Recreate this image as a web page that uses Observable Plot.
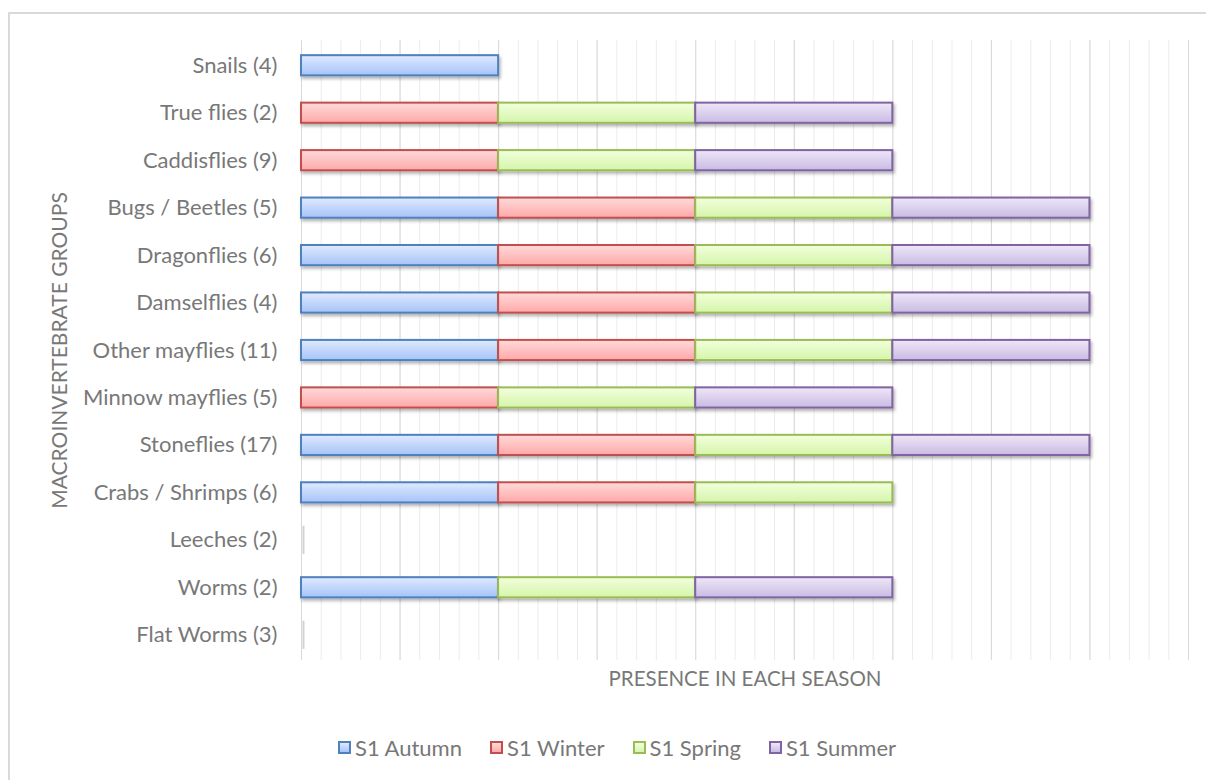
<!DOCTYPE html>
<html>
<head>
<meta charset="utf-8">
<script src="https://cdn.jsdelivr.net/npm/d3@7"></script>
<script src="https://cdn.jsdelivr.net/npm/@observablehq/plot@0.6"></script>
<style>
  html, body { margin: 0; padding: 0; background: #fff; overflow: hidden; }
  body { width: 1206px; height: 780px; position: relative; font-family: Lato, "Open Sans", sans-serif; }
  #frame { position: absolute; left: 8px; top: 12px; width: 1240px; height: 800px;
           border-left: 2px solid #d9d9d9; border-top: 2px solid #d9d9d9; }
  #chart { position: absolute; left: 0; top: 0; }
  #legend { position: absolute; left: 8px; top: 734px; width: 1218px; display: flex;
            justify-content: center; gap: 28px; font-size: 22px; color: #787878; }
  #legend .item { display: flex; align-items: center; gap: 4px; }
  #legend .sw { width: 9px; height: 9px; border: 2px solid; }
</style>
</head>
<body>
<div id="frame"></div>
<div id="chart"></div>
<div id="legend"></div>
<script>
// Macroinvertebrate groups (number of taxa in brackets), top to bottom
const groups = [
  "Snails (4)", "True flies (2)", "Caddisflies (9)", "Bugs / Beetles (5)",
  "Dragonflies (6)", "Damselflies (4)", "Other mayflies (11)", "Minnow mayflies (5)",
  "Stoneflies (17)", "Crabs / Shrimps (6)", "Leeches (2)", "Worms (2)", "Flat Worms (3)"
];
const seasons = ["S1 Autumn", "S1 Winter", "S1 Spring", "S1 Summer"];

// Presence (1) or absence (0) of each group in each season
const autumn = [1, 0, 0, 1, 1, 1, 1, 0, 1, 1, 0, 1, 0];
const winter = [0, 1, 1, 1, 1, 1, 1, 1, 1, 1, 0, 0, 0];
const spring = [0, 1, 1, 1, 1, 1, 1, 1, 1, 1, 0, 1, 0];
const summer = [0, 1, 1, 1, 1, 1, 1, 1, 1, 0, 0, 1, 0];
const presence = [autumn, winter, spring, summer];

const strokes = ["#4f81bd", "#c0504d", "#9bbb59", "#8064a2"];
const gradients = [
  ["#dfeaff", "#a6c3f8"],
  ["#ffdada", "#ffa8a8"],
  ["#f2ffdd", "#d5f5aa"],
  ["#eee7f8", "#c9bbe3"]
];
const fillIds = ["g-autumn", "g-winter", "g-spring", "g-summer"];

const rows = [];
groups.forEach((g, i) => {
  seasons.forEach((s, j) => {
    rows.push({group: g, season: s, idx: j, value: presence[j][i]});
  });
});
const present = rows.filter(d => d.value > 0);
const absentGroups = groups.filter((g, i) => presence.every(p => p[i] === 0));

// Gradient fills and a soft drop shadow for the bars
function defs() {
  const d = d3.create("svg:defs");
  gradients.forEach(([top, bottom], j) => {
    const lg = d.append("linearGradient").attr("id", fillIds[j])
      .attr("x1", 0).attr("y1", 0).attr("x2", 0).attr("y2", 1);
    lg.append("stop").attr("offset", "0%").attr("stop-color", top);
    lg.append("stop").attr("offset", "100%").attr("stop-color", bottom);
  });
  const f = d.append("filter").attr("id", "shadow")
    .attr("x", "-5%").attr("y", "-30%").attr("width", "115%").attr("height", "190%");
  f.append("feDropShadow").attr("dx", 1.5).attr("dy", 2.5)
    .attr("stdDeviation", 1.4).attr("flood-color", "#000").attr("flood-opacity", 0.3);
  return d.node();
}

const minorTicks = d3.ticks(0, 4.5, 45);
const majorTicks = d3.ticks(0, 4.5, 9);
const textColor = "#787878";

const chart = Plot.plot({
  width: 1206,
  height: 700,
  marginLeft: 301,
  marginRight: 18,
  marginTop: 40,
  marginBottom: 40,
  style: {fontFamily: "Lato, 'Open Sans', sans-serif", fontSize: "22px", color: textColor, background: "transparent"},
  x: {domain: [0, 4.5], axis: null},
  y: {domain: groups, paddingInner: 0.575, paddingOuter: 0.32, round: false, label: null},
  color: {type: "identity"},
  marks: [
    defs,
    Plot.gridX(minorTicks, {stroke: "#ececec", strokeOpacity: 1, strokeWidth: 1}),
    Plot.gridX(majorTicks, {stroke: "#d9d9d9", strokeOpacity: 1, strokeWidth: 1}),
    Plot.axisY({tickSize: 0, tickPadding: 24, label: null, fontSize: 22, fill: textColor}),
    Plot.tickX(absentGroups, {x: 0, y: d => d, stroke: "#d2d2d2", strokeWidth: 2, dx: 2, inset: -4}),
    Plot.barX(present, Plot.stackX({
      y: "group",
      x: "value",
      order: seasons,
      z: "season",
      fill: d => `url(#${fillIds[d.idx]})`,
      stroke: d => strokes[d.idx],
      strokeWidth: 2
    })),
    Plot.text(["MACROINVERTEBRATE GROUPS"], {
      frameAnchor: "left", textAnchor: "middle", dx: -241, rotate: -90, fontSize: 21, fill: textColor
    }),
    Plot.text(["PRESENCE IN EACH SEASON"], {
      frameAnchor: "bottom", textAnchor: "middle", lineAnchor: "middle", dy: 19, fontSize: 20.5, fill: textColor
    })
  ]
});
// Apply shadow to the bar rectangles
d3.select(chart).selectAll("g[aria-label='bar'] rect").attr("filter", "url(#shadow)");
document.getElementById("chart").appendChild(chart);

// Legend
const legend = d3.select("#legend");
seasons.forEach((s, j) => {
  const item = legend.append("div").attr("class", "item");
  item.append("span").attr("class", "sw")
    .style("border-color", strokes[j])
    .style("background", `linear-gradient(${gradients[j][0]}, ${gradients[j][1]})`);
  item.append("span").text(s);
});
</script>
</body>
</html>
